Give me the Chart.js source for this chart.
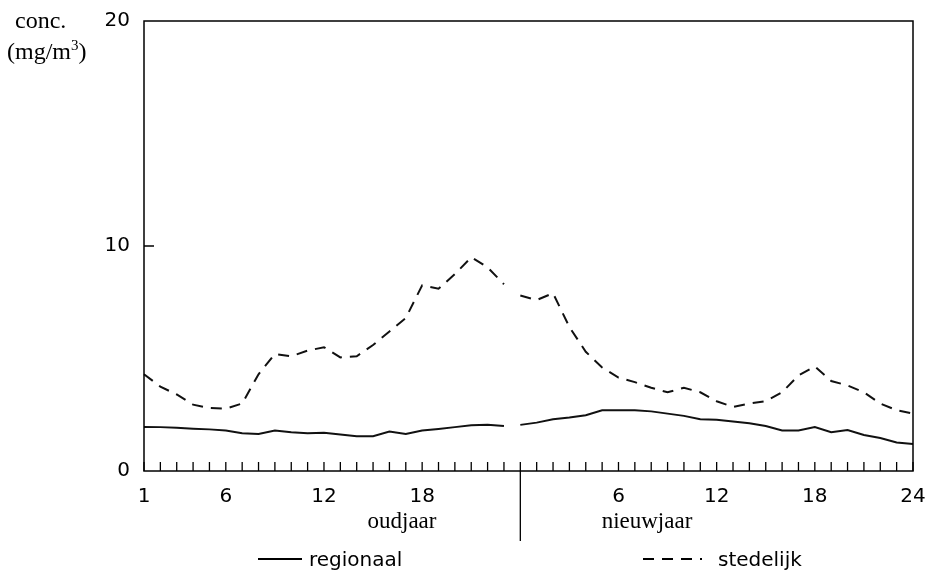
<!DOCTYPE html>
<html lang="nl">
<head>
  <meta charset="UTF-8" />
  <title>Concentratie oudjaar / nieuwjaar</title>
  <script src="https://cdn.jsdelivr.net/npm/chart.js"></script>
  <style>
    html, body { margin: 0; padding: 0; background: #fff; }
    #wrap { width: 928px; height: 574px; }
  </style>
</head>
<body>
  <div id="wrap"><canvas id="chart" width="928" height="574"></canvas></div>

  <script>
    // hours: oudjaar 1..24, nieuwjaar 1..24 (index 23 is midnight, the divider)
    const hours = [
      '1','2','3','4','5','6','7','8','9','10','11','12','13','14','15','16','17','18','19','20','21','22','23','24',
      '1','2','3','4','5','6','7','8','9','10','11','12','13','14','15','16','17','18','19','20','21','22','23','24'
    ];
    const tickLabels = [
      '1','','','','','6','','','','','','12','','','','','','18','','','','','','',
      '','','','','','6','','','','','','12','','','','','','18','','','','','','24'
    ];
    const dayLabels = ['oudjaar', 'nieuwjaar'];

    // concentration (mg/m3); the line is broken between index 22 and 23
    const regionaal = [
      1.96, 1.95, 1.92, 1.88, 1.85, 1.8, 1.68, 1.65, 1.8, 1.72, 1.68, 1.7,
      1.62, 1.55, 1.55, 1.75, 1.65, 1.8, 1.87, 1.95, 2.03, 2.05, 2.0, 2.05,
      2.15, 2.3, 2.38, 2.48, 2.7, 2.7, 2.7, 2.65, 2.55, 2.45, 2.3, 2.28,
      2.2, 2.12, 2.0, 1.8, 1.8, 1.95, 1.72, 1.82, 1.6, 1.47, 1.27, 1.2
    ];
    const stedelijk = [
      4.3, 3.75, 3.4, 2.95, 2.8, 2.77, 3.0, 4.3, 5.2, 5.1, 5.35, 5.5,
      5.05, 5.1, 5.6, 6.2, 6.8, 8.25, 8.1, 8.75, 9.5, 9.05, 8.3, 7.8,
      7.6, 7.9, 6.4, 5.3, 4.6, 4.15, 3.95, 3.7, 3.5, 3.7, 3.5, 3.1,
      2.85, 3.0, 3.1, 3.5, 4.25, 4.65, 4.0, 3.8, 3.5, 3.0, 2.7, 2.55
    ];
    const breakAfter = 22;
    const divideAt = 23;

    const SANS = "'DejaVu Sans', sans-serif";
    const SERIF = "'Liberation Serif', 'DejaVu Serif', serif";
    Chart.defaults.font.family = SANS;
    Chart.defaults.color = '#000';

    const gap = ctx => ctx.p0DataIndex === breakAfter ? 'rgba(0,0,0,0)' : undefined;

    // frame, inward ticks, divider, day names, axis title and legend
    const decor = {
      id: 'decor',
      afterDraw(chart) {
        const { ctx, chartArea: a, scales: { x, y } } = chart;
        ctx.save();
        ctx.strokeStyle = '#000';
        ctx.lineWidth = 1.5;
        ctx.strokeRect(a.left, a.top, a.right - a.left, a.bottom - a.top);

        ctx.lineWidth = 1.3;
        ctx.beginPath();
        for (let i = 0; i < hours.length; i++) {
          const px = x.getPixelForValue(i);
          ctx.moveTo(px, a.bottom);
          ctx.lineTo(px, a.bottom - 9);
        }
        const y10 = y.getPixelForValue(10);
        ctx.moveTo(a.left, y10);
        ctx.lineTo(a.left + 10, y10);
        const dx = x.getPixelForValue(divideAt);
        ctx.moveTo(dx, a.bottom);
        ctx.lineTo(dx, a.bottom + 70);
        ctx.stroke();

        ctx.fillStyle = '#000';
        ctx.textBaseline = 'middle';
        ctx.font = '23px ' + SERIF;
        ctx.textAlign = 'center';
        ctx.fillText(dayLabels[0], 402, 522);
        ctx.fillText(dayLabels[1], 647, 522);

        ctx.textAlign = 'left';
        ctx.font = '24px ' + SERIF;
        ctx.fillText('conc.', 15, 22);
        ctx.fillText('(mg/m', 7, 53);
        const w = ctx.measureText('(mg/m').width;
        ctx.font = '15px ' + SERIF;
        ctx.fillText('3', 7 + w, 46);
        const w3 = ctx.measureText('3').width;
        ctx.font = '24px ' + SERIF;
        ctx.fillText(')', 7 + w + w3, 53);

        // legend
        const items = [
          { ds: chart.data.datasets[0], x0: 258, x1: 302, tx: 309 },
          { ds: chart.data.datasets[1], x0: 643, x1: 702, tx: 718 }
        ];
        ctx.font = '20px ' + SANS;
        items.forEach(it => {
          ctx.lineWidth = 2;
          ctx.setLineDash(it.ds.borderDash || []);
          ctx.beginPath();
          ctx.moveTo(it.x0, 559);
          ctx.lineTo(it.x1, 559);
          ctx.stroke();
          ctx.setLineDash([]);
          ctx.fillText(it.ds.label, it.tx, 561);
        });
        ctx.restore();
      }
    };

    new Chart(document.getElementById('chart'), {
      type: 'line',
      data: {
        labels: hours,
        datasets: [
          {
            label: 'regionaal', data: regionaal,
            borderColor: '#111', borderWidth: 2, pointRadius: 0, tension: 0,
            segment: { borderColor: gap }
          },
          {
            label: 'stedelijk', data: stedelijk,
            borderColor: '#111', borderWidth: 2, borderDash: [11, 8], pointRadius: 0, tension: 0,
            segment: { borderColor: gap }
          }
        ]
      },
      options: {
        responsive: false,
        animation: false,
        layout: { padding: { top: 21, right: 15, left: 0, bottom: 0 } },
        plugins: { legend: { display: false }, tooltip: { enabled: false } },
        scales: {
          x: {
            type: 'category',
            offset: false,
            grid: { display: false, drawTicks: false },
            border: { display: false },
            ticks: {
              autoSkip: false, maxRotation: 0, padding: 14,
              font: { size: 20 },
              callback: (v, i) => tickLabels[i]
            },
            afterFit: s => { s.height = 103; s.paddingLeft = 0; s.paddingRight = 0; }
          },
          y: {
            min: 0, max: 20,
            grid: { display: false, drawTicks: false },
            border: { display: false },
            ticks: { stepSize: 10, padding: 14, font: { size: 20 } },
            afterFit: s => { s.width = 144; s.paddingTop = 0; s.paddingBottom = 0; }
          }
        }
      },
      plugins: [decor]
    });
  </script>
</body>
</html>
